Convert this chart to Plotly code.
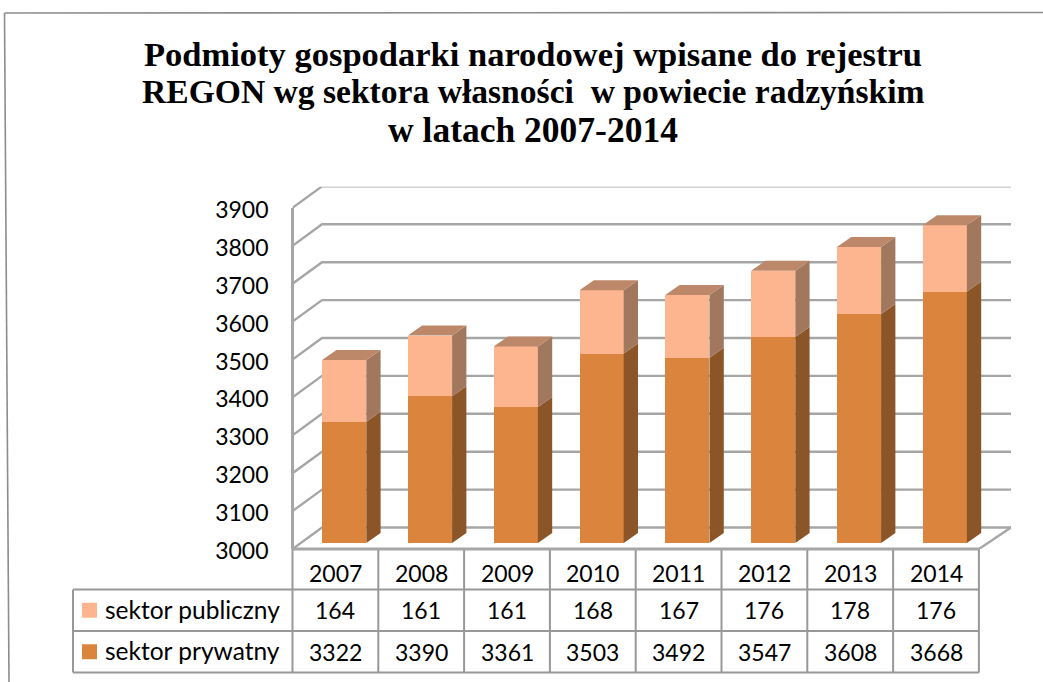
import plotly.graph_objects as go

W, H = 1043, 682

# ---------- data ----------
years = ["2007", "2008", "2009", "2010", "2011", "2012", "2013", "2014"]
sektor_publiczny = [164, 161, 161, 168, 167, 176, 178, 176]
sektor_prywatny = [3322, 3390, 3361, 3503, 3492, 3547, 3608, 3668]
y_ticks = [3000, 3100, 3200, 3300, 3400, 3500, 3600, 3700, 3800, 3900]
title_lines = [
    "Podmioty gospodarki narodowej wpisane do rejestru",
    "REGON wg sektora własności  w powiecie radzyńskim",
    "w latach 2007-2014",
]
name_pub = "sektor publiczny"
name_pry = "sektor prywatny"

# ---------- colours ----------
C_PRY, C_PRY_SIDE = "#DB843D", "#8B5528"
C_PUB, C_PUB_SIDE, C_PUB_TOP = "#FCB58E", "#A1775D", "#BC8869"
C_GRID = "#A6A6A6"
C_LINE = "#989898"
FONT = "Lato"

# ---------- layout geometry (pixels) ----------
AX_L, AX_B = 292.5, 549.0      # front-left corner of the 3-D box
CAT_W = 85.8                   # width of a category
PX_PER_UNIT = 0.379            # pixels per value unit (box)
PX_PER_UNIT_BAR = 0.3765       # pixels per value unit (bars, set slightly back in the box)
DEPTH_X, DEPTH_Y = 29.5, 21.5  # box depth
BACK_R, BACK_T = 1011.0, 186.7
BAR_OX, BAR_OY = 8.8, 6.0      # bar front offset from box front
BAR_W = 0.515
SIDE_X, SIDE_Y = 14.3, 10.0    # bar depth
TBL_R = AX_L + CAT_W * len(years)
ROWS = [AX_B, 589.5, 631.0, 672.5]
LEG_L = 73.0


def px(x):
    return x / W


def py(y):
    return 1 - y / H


# main (box) axes: linear category index / real values
x_max = (BACK_R - AX_L) / CAT_W - 0.5
y_max = 3000 + (AX_B - BACK_T) / PX_PER_UNIT
# bar axes: same scales, moved into the box
x2_max = (BACK_R - AX_L - BAR_OX) / CAT_W - 0.5
y2_max = 3000 + (AX_B - BAR_OY - BACK_T) / PX_PER_UNIT_BAR

fig = go.Figure()


def wall_line(xs, ys):
    fig.add_trace(go.Scatter(x=xs, y=ys, mode="lines", hoverinfo="skip", showlegend=False,
                             line=dict(color=C_GRID, width=2.4), xaxis="x", yaxis="y"))


dx = DEPTH_X / CAT_W
dy = DEPTH_Y / PX_PER_UNIT
for t in y_ticks:
    wall_line([-0.5, -0.5 + dx, x_max], [t, t + dy, t + dy])
wall_line([len(years) - 0.5, x_max], [3000, 3000 + dy])

# bars through Plotly's own stacking
idx = list(range(len(years)))
fig.add_trace(go.Bar(x=idx, y=sektor_prywatny, name=name_pry, marker=dict(color=C_PRY, line_width=0),
                     width=BAR_W, xaxis="x2", yaxis="y2", showlegend=False))
fig.add_trace(go.Bar(x=idx, y=sektor_publiczny, name=name_pub, marker=dict(color=C_PUB, line_width=0),
                     width=BAR_W, xaxis="x2", yaxis="y2", showlegend=False))

# side & top faces derived from the values
sx = SIDE_X / CAT_W
sy = SIDE_Y / PX_PER_UNIT_BAR


def face(xs, ys, color):
    fig.add_trace(go.Scatter(x=xs, y=ys, mode="lines", fill="toself", fillcolor=color, hoverinfo="skip",
                             line=dict(width=0, color=color), showlegend=False, xaxis="x2", yaxis="y2"))


for i, (pry, pub) in enumerate(zip(sektor_prywatny, sektor_publiczny)):
    r = i + BAR_W / 2
    l = i - BAR_W / 2
    total = pry + pub
    face([r, r + sx, r + sx, r, r], [3000, 3000 + sy, pry + sy, pry, 3000], C_PRY_SIDE)
    face([r, r + sx, r + sx, r, r], [pry, pry + sy, total + sy, total, pry], C_PUB_SIDE)
    face([l, l + sx, r + sx, r, l], [total, total + sy, total + sy, total, total], C_PUB_TOP)

# ---------- table + frame (paper-space decoration) ----------
shapes = []


def seg(x0, y0, x1, y1, color=C_LINE, width=2.0):
    shapes.append(dict(type="line", xref="paper", yref="paper", x0=px(x0), y0=py(y0), x1=px(x1), y1=py(y1),
                       line=dict(color=color, width=width), layer="above"))


for k in range(len(years) + 1):
    seg(AX_L + k * CAT_W, AX_B, AX_L + k * CAT_W, ROWS[-1], width=2.0)
seg(AX_L, ROWS[0], TBL_R, ROWS[0], color=C_GRID, width=3)
seg(LEG_L, ROWS[1], TBL_R, ROWS[1])
seg(LEG_L, ROWS[2], TBL_R, ROWS[2])
seg(LEG_L, ROWS[3], TBL_R, ROWS[3])
seg(LEG_L, ROWS[1], LEG_L, ROWS[3])
seg(AX_L, 208, AX_L, AX_B, color=C_GRID, width=3)
# outer chart frame
seg(4.5, 13, 9, H, color="#8C8C8C", width=1.6)
seg(4.5, 13, W, 12.5, color="#8C8C8C", width=1.6)

# legend keys
for row, col in ((0, C_PUB), (1, C_PRY)):
    yc = (ROWS[row + 1] + ROWS[row + 2]) / 2
    shapes.append(dict(type="rect", xref="paper", yref="paper", line_width=0, fillcolor=col,
                       x0=px(82), x1=px(97), y0=py(yc - 7.5), y1=py(yc + 7.5)))

ann = []


def text(x, y, s, size=23, anchor="center", family=FONT, color="#000000", bold=False):
    ann.append(dict(x=px(x), y=py(y), xref="paper", yref="paper", text=f"<b>{s}</b>" if bold else s,
                    showarrow=False, xanchor=anchor, yanchor="middle",
                    font=dict(family=family, size=size, color=color)))


for k, yr in enumerate(years):
    cx = AX_L + (k + 0.5) * CAT_W
    text(cx, (ROWS[0] + ROWS[1]) / 2 + 4, yr)
    text(cx, (ROWS[1] + ROWS[2]) / 2, str(sektor_publiczny[k]))
    text(cx, (ROWS[2] + ROWS[3]) / 2, str(sektor_prywatny[k]))
text(103, (ROWS[1] + ROWS[2]) / 2 - 1, name_pub, size=24.5, anchor="left")
text(103, (ROWS[2] + ROWS[3]) / 2 - 1, name_pry, size=24.5, anchor="left")

for line, yc, sz in zip(title_lines, (54, 91, 130), (34.5, 33.6, 35.5)):
    text(533, yc, line, size=sz, family="Liberation Serif", bold=True)

fig.update_layout(
    width=W, height=H, margin=dict(l=0, r=0, t=0, b=0, pad=0, autoexpand=False),
    paper_bgcolor="white", plot_bgcolor="rgba(0,0,0,0)",
    barmode="stack", showlegend=False, shapes=shapes, annotations=ann,
    xaxis=dict(domain=[px(AX_L), px(BACK_R)], range=[-0.5, x_max], visible=False, automargin=False),
    yaxis=dict(domain=[py(AX_B), py(BACK_T)], range=[3000, y_max], tickvals=y_ticks, showgrid=False,
               zeroline=False, showline=False, ticks="", ticklabelstandoff=23, ticklabelshift=2, automargin=False,
               tickfont=dict(family=FONT, size=23, color="#000000")),
    xaxis2=dict(domain=[px(AX_L + BAR_OX), px(BACK_R)], range=[-0.5, x2_max], visible=False, anchor="y2"),
    yaxis2=dict(domain=[py(AX_B - BAR_OY), py(BACK_T)], range=[3000, y2_max], visible=False, anchor="x2"),
)
fig.write_html("out.html", config={"displayModeBar": False},
               post_script="document.body.style.margin='0';")
